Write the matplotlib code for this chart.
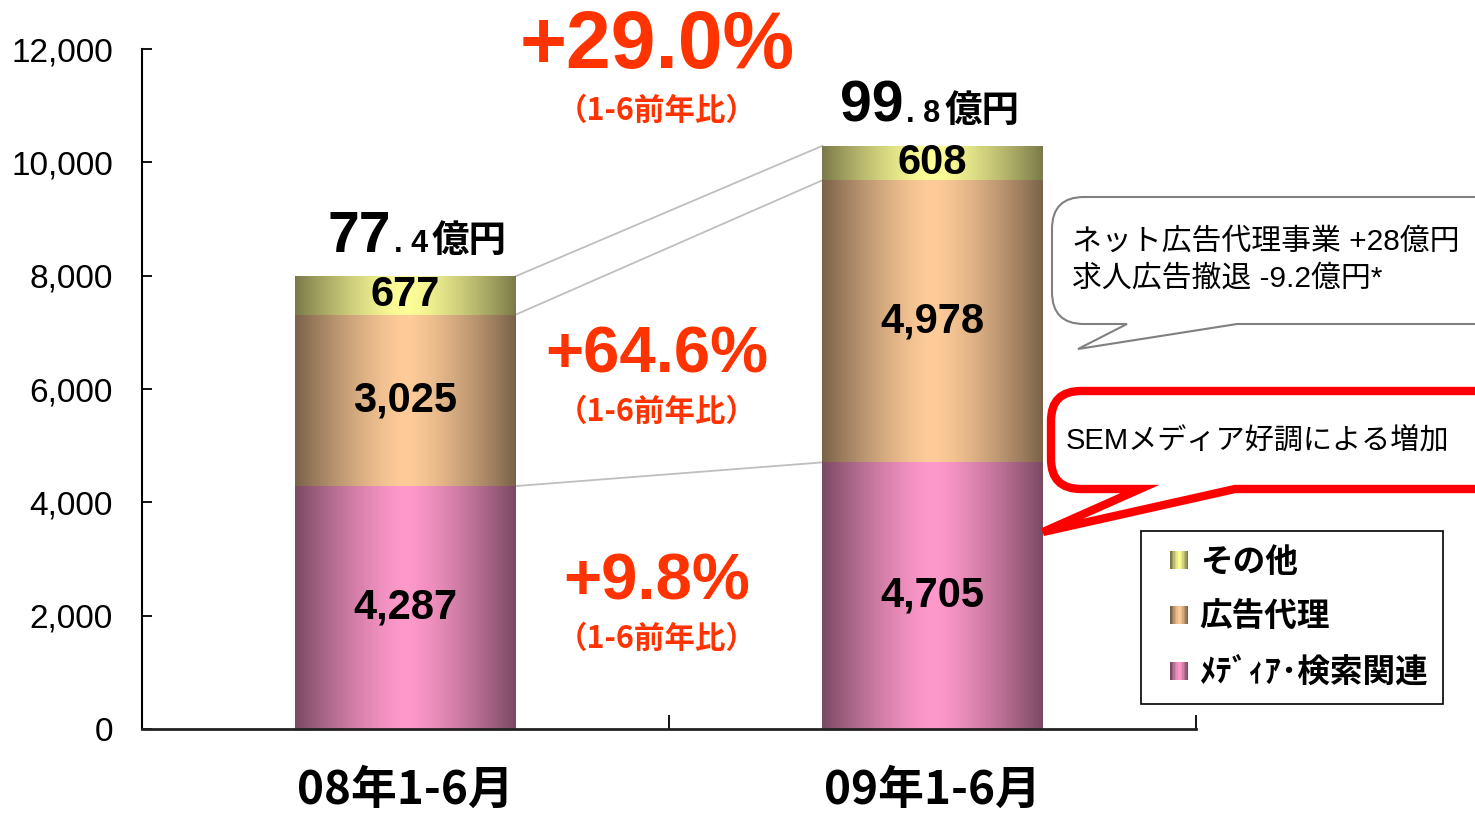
import numpy as np
import matplotlib
matplotlib.use('Agg')
import matplotlib.pyplot as plt
from matplotlib.patches import Rectangle, PathPatch
from matplotlib.path import Path
from matplotlib.legend_handler import HandlerBase
from matplotlib.colors import to_rgb
from matplotlib.ticker import StrMethodFormatter

plt.rcParams['font.family'] = ['Liberation Sans', 'Noto Sans CJK JP', 'DejaVu Sans']

# ---------------- data ----------------
categories = ['08年1-6月', '09年1-6月']
legend_labels = ['ﾒﾃﾞｨｱ･検索関連', '広告代理', 'その他']   # bottom -> top
media = [4287, 4705]
agency = [3025, 4978]
other = [677, 608]
totals_oku = [77.4, 99.8]
growth_total = '+29.0%'
growth_agency = '+64.6%'
growth_media = '+9.8%'
growth_note = '（1-6前年比）'
y_ticks = [0, 2000, 4000, 6000, 8000, 10000, 12000]
callout_grey = 'ネット広告代理事業 +28億円\n求人広告撤退 -9.2億円*'
callout_red = 'SEMメディア好調による増加'

# ---------------- style ----------------
light_colors = ['#ff99cc', '#ffcc99', '#ffff99']
DARK = 0.48
RED = '#ff3300'
CJK = ['Noto Sans CJK JP', 'DejaVu Sans']
LAT = ['Liberation Sans', 'Noto Sans CJK JP', 'DejaVu Sans']

W, H = 1475, 815
fig = plt.figure(figsize=(W / 100, H / 100), dpi=100)
fig.patch.set_facecolor('white')
ax = fig.add_axes([142 / W, 1 - 729 / H, (1196 - 142) / W, (729 - 49) / H])
ax.set_facecolor('none')


def gradient_row(light, n=256):
    lc = np.array(to_rgb(light))
    dc = lc * DARK
    xs = np.linspace(0, 1, n)
    t = np.abs(2 * xs - 1) ** 1.4
    cols = lc[None, :] * (1 - t[:, None]) + dc[None, :] * t[:, None]
    return cols[None, :, :]


x = np.arange(len(categories))
width = 0.418
bottom = np.zeros(len(categories))
series = [media, agency, other]
tops = []
for vals, lc in zip(series, light_colors):
    vals = np.array(vals, dtype=float)
    bars = ax.bar(x, vals, width, bottom=bottom, color='none', edgecolor='none', zorder=2)
    for p in bars:
        x0, y0 = p.get_x(), p.get_y()
        im = ax.imshow(gradient_row(lc), extent=[x0, x0 + p.get_width(), y0, y0 + p.get_height()],
                       aspect='auto', interpolation='bilinear', zorder=2)
        im.set_clip_path(p)
    for xi, b, v in zip(x, bottom, vals):
        ax.text(xi, b + v / 2, f'{int(v):,}', ha='center', va='center', fontsize=30,
                fontweight='bold', family=LAT, color='black', zorder=4)
    bottom = bottom + vals
    tops.append(bottom.copy())

# connector lines between bars
for tp in tops:
    ax.plot([x[0] + width / 2, x[1] - width / 2], [tp[0], tp[1]], color='#bfbfbf', lw=1.3, zorder=1)

# totals above bars
for xi, tot, t in zip(x, bottom, totals_oku):
    whole, dec = f'{t:.1f}'.split('.')
    a = ax.annotate(whole, xy=(xi, tot), xytext=(-15 - 14 * xi, 24), textcoords='offset pixels',
                    ha='right', va='baseline', fontsize=41, fontweight='bold', family=LAT)
    b = ax.annotate('. ' + dec, xy=(xi, tot), xytext=(-12 - 14 * xi, 24), textcoords='offset pixels',
                    ha='left', va='baseline', fontsize=22, fontweight='bold', family=LAT)
    ax.annotate('億円', xy=(1, 0), xycoords=b, xytext=(4, -1), textcoords='offset pixels',
                ha='left', va='bottom', fontsize=27, fontweight='bold', family=CJK)

# growth labels
gx = 0.477
for txt, yv, fs, ny in [(growth_total, 12040, 58, 10900),
                        (growth_agency, 6600, 47, 5600),
                        (growth_media, 2594, 47, 1590)]:
    ax.text(gx, yv, txt, ha='center', va='center', fontsize=fs, fontweight='bold',
            color=RED, family=LAT, clip_on=False)
    ax.text(gx, ny, growth_note, ha='center', va='center', fontsize=22, fontweight='bold',
            color=RED, family=CJK, clip_on=False)

# axes
ax.set_xlim(-0.5, 1.5)
ax.set_ylim(0, 12000)
ax.set_yticks(y_ticks)
ax.yaxis.set_major_formatter(StrMethodFormatter('{x:,.0f}'))
ax.tick_params(axis='y', direction='in', length=7, width=1.3, labelsize=24, pad=21, colors='black')
ax.set_xticks(x)
ax.set_xticklabels(categories, fontsize=33, fontweight='bold', family=CJK)
ax.tick_params(axis='x', which='major', length=0, pad=28)
ax.set_xticks([-0.5, 0.5, 1.5], minor=True)
ax.tick_params(axis='x', which='minor', direction='in', length=10, width=1.3)
for s in ['top', 'right']:
    ax.spines[s].set_visible(False)
ax.spines['left'].set_linewidth(1.5)
ax.spines['bottom'].set_linewidth(2.0)
ax.spines['bottom'].set_color('#222222')


# legend with gradient swatches
class GradHandle:
    def __init__(self, light):
        self.light = light


class GradHandler(HandlerBase):
    def create_artists(self, legend, orig_handle, xdescent, ydescent, width, height, fontsize, trans):
        row = gradient_row(orig_handle.light, 12)[0]
        s = 0.55 * fontsize
        x0 = -xdescent + width - s
        y0 = -ydescent + (height - s) / 2
        arts = []
        for i, c in enumerate(row):
            arts.append(Rectangle((x0 + i * s / len(row), y0), s / len(row) * 1.05, s,
                                  facecolor=c, edgecolor='none', transform=trans))
        return arts


handles = [GradHandle(c) for c in light_colors][::-1]
leg = ax.legend(handles, legend_labels[::-1], handler_map={GradHandle: GradHandler()},
                loc='upper left', bbox_to_anchor=(1141 / W, 1 - 531 / H), bbox_transform=fig.transFigure,
                frameon=True, fancybox=False, framealpha=1, edgecolor='black', borderaxespad=0,
                borderpad=0.45, labelspacing=0.68, handlelength=1.0, handleheight=0.7,
                handletextpad=0.35,
                prop={'family': CJK, 'weight': 'bold', 'size': 23.5})
leg.get_frame().set_linewidth(1.2)
leg.set_zorder(6)

# overlay for callouts (pixel coordinates)
ov = fig.add_axes([0, 0, 1, 1], zorder=3)
ov.set_xlim(0, W)
ov.set_ylim(H, 0)
ov.axis('off')
ov.patch.set_alpha(0)


def callout_path(L, R, T, B, r, b1, tip, b2):
    M, L2, C = Path.MOVETO, Path.LINETO, Path.CURVE3
    verts = [(L + r, T), (R - r, T), (R, T), (R, T + r), (R, B - r), (R, B), (R - r, B),
             (b2, B), tip, (b1, B), (L + r, B), (L, B), (L, B - r), (L, T + r), (L, T), (L + r, T),
             (L + r, T)]
    codes = [M, L2, C, C, L2, C, C, L2, L2, L2, L2, C, C, L2, C, C, Path.CLOSEPOLY]
    return Path(verts, codes)


ov.add_patch(PathPatch(callout_path(1052, 1510, 197, 324, 32, 1127, (1078, 349), 1237),
                       facecolor='white', edgecolor='#808080', lw=1.5, joinstyle='miter'))
ov.text(1072, 260, callout_grey, ha='left', va='center', fontsize=21.5, family=LAT,
        linespacing=1.4)
ov.add_patch(PathPatch(callout_path(1051, 1510, 391, 489, 30, 1140, (1043, 532), 1235),
                       facecolor='white', edgecolor='#ff0000', lw=6, joinstyle='miter'))
ov.text(1066, 441, callout_red, ha='left', va='center', fontsize=21, family=LAT)

fig.savefig('out.png', dpi=100, facecolor='white')
